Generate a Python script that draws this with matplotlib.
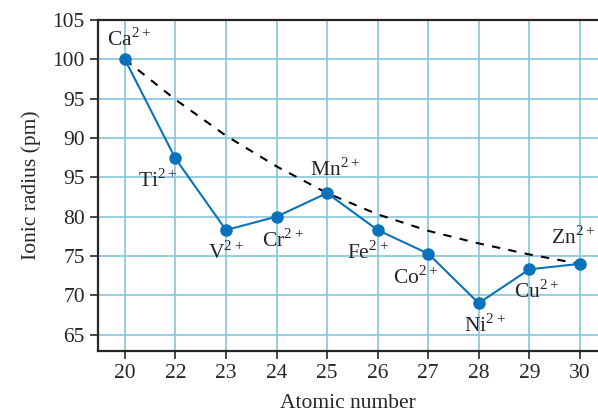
import matplotlib.pyplot as plt
import numpy as np

plt.rcParams['font.family'] = ['Liberation Serif', 'DejaVu Serif']
plt.rcParams['mathtext.fontset'] = 'custom'
plt.rcParams['mathtext.rm'] = 'Liberation Serif'
plt.rcParams['font.size'] = 15.5

atomic = ['20', '22', '23', '24', '25', '26', '27', '28', '29', '30']
ions = ['Ca', 'Ti', 'V', 'Cr', 'Mn', 'Fe', 'Co', 'Ni', 'Cu', 'Zn']
radius = [100, 87.4, 78.3, 80.0, 83.0, 78.3, 75.3, 69.0, 73.3, 74.0]
trend = [100, 94.9, 90.3, 86.4, 83.0, 80.3, 78.2, 76.6, 75.2, 74.0]
ytick_vals = [65, 70, 75, 80, 85, 90, 95, 100, 105]
ytick_labels = ['65', '70', '75', '80', '95', '90', '95', '100', '105']

# label offsets in pixels from each point
offsets = [(4, 20), (-18, -22), (0, -22), (6, -24), (8, 24), (-10, -22), (-12, -24), (6, -22), (8, -22), (-7, 26)]

blue = '#0a72ba'
ink = '#262626'
fig = plt.figure(figsize=(5.98, 4.19), dpi=100)
ax = fig.add_axes([0.164, 0.162, 0.836, 0.790])

x = np.arange(len(atomic))
ax.plot(x, trend, color='black', lw=1.5, dashes=(4, 4), zorder=2)
ax.plot(x, radius, color=blue, lw=1.5, marker='o', markersize=8, zorder=3)

for i, name in enumerate(ions):
    ax.annotate(r'$\mathrm{' + name + r'}^{\mathrm{2+}}$', (x[i], radius[i]), xytext=offsets[i],
                textcoords='offset pixels', ha='center', va='center', fontsize=15.5, color=ink)

ax.set_xlim(-0.53, 9.36)
ax.set_ylim(62.9, 105)
ax.set_xticks(x)
ax.set_xticklabels(atomic)
ax.set_yticks(ytick_vals)
ax.set_yticklabels(ytick_labels)
ax.grid(True, color='#86c5dd', lw=1.2)
ax.set_axisbelow(True)
ax.tick_params(direction='out', length=6, width=1.2, labelsize=15.5, colors=ink)
for s in ['left', 'bottom', 'top']:
    ax.spines[s].set_linewidth(1.6)
    ax.spines[s].set_color(ink)
ax.spines['right'].set_visible(False)
ax.set_xlabel('Atomic number', fontsize=15.5, labelpad=8, color=ink)
ax.set_ylabel('Ionic radius (pm)', fontsize=15.5, labelpad=8, color=ink)

fig.savefig('out.png', dpi=100)
